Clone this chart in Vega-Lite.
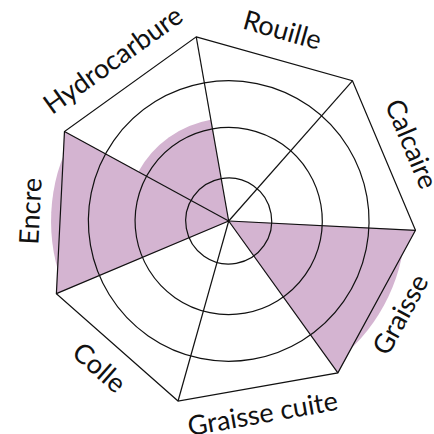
{
  "$schema": "https://vega.github.io/schema/vega-lite/v6.json",
  "width": 410,
  "height": 410,
  "autosize": {"type": "none"},
  "padding": {"left": 23.7, "top": 16, "right": 0.3, "bottom": 8},
  "background": "white",
  "config": {"view": {"stroke": null}},
  "datasets": {
    "cats": [
      {"cat": "Rouille", "i": 0, "v": 0},
      {"cat": "Calcaire", "i": 1, "v": 0},
      {"cat": "Graisse", "i": 2, "v": 0.945},
      {"cat": "Graisse cuite", "i": 3, "v": 0},
      {"cat": "Colle", "i": 4, "v": 0},
      {"cat": "Encre", "i": 5, "v": 0.95},
      {"cat": "Hydrocarbure", "i": 6, "v": 0.55}
    ],
    "rings": [{"g": 0.23}, {"g": 0.5}, {"g": 0.75}]
  },
  "layer": [
    {
      "data": {"name": "cats"},
      "transform": [
        {"calculate": "datum.i", "as": "t0"},
        {"calculate": "datum.i + 1", "as": "t1"}
      ],
      "mark": {"type": "arc", "fill": "#d4b4d1", "strokeWidth": 0},
      "encoding": {
        "theta": {"field": "t0", "type": "quantitative", "stack": null, "scale": {"type": "linear", "domain": [0, 7], "range": [-0.1745, 6.1087]}},
        "theta2": {"field": "t1"},
        "radius": {"field": "v", "type": "quantitative", "stack": null, "scale": {"type": "linear", "domain": [0, 1], "range": [0, 187], "zero": true}}
      }
    },
    {
      "data": {"name": "cats"},
      "transform": [
        {"filter": "datum.v > 0.9"},
        {"calculate": "[0, 1, 2]", "as": "j"},
        {"flatten": ["j"]},
        {"calculate": "datum.j == 0 ? 0 : sin(-0.1745 + (datum.i + datum.j - 1) * 2 * PI / 7)", "as": "px"},
        {"calculate": "datum.j == 0 ? 0 : cos(-0.1745 + (datum.i + datum.j - 1) * 2 * PI / 7)", "as": "py"}
      ],
      "mark": {"type": "line", "interpolate": "linear-closed", "fill": "#d4b4d1", "stroke": "#d4b4d1", "strokeWidth": 0.5},
      "encoding": {
        "x": {"field": "px", "type": "quantitative", "scale": {"domain": [-1.09626, 1.09626], "nice": false, "zero": false}, "axis": null},
        "y": {"field": "py", "type": "quantitative", "scale": {"domain": [-1.09626, 1.09626], "nice": false, "zero": false}, "axis": null},
        "detail": {"field": "cat", "type": "nominal"},
        "order": {"field": "j", "type": "quantitative"},
        "fill": {"value": "#d4b4d1"}
      }
    },
    {
      "data": {"name": "rings"},
      "transform": [
        {"calculate": "0", "as": "t0"},
        {"calculate": "7", "as": "t1"}
      ],
      "mark": {"type": "arc", "filled": false, "stroke": "#111111", "strokeWidth": 1.2},
      "encoding": {
        "theta": {"field": "t0", "type": "quantitative", "stack": null},
        "theta2": {"field": "t1"},
        "radius": {"field": "g", "type": "quantitative", "stack": null}
      }
    },
    {
      "data": {"name": "cats"},
      "transform": [
        {"calculate": "0", "as": "ox"},
        {"calculate": "0", "as": "oy"},
        {"calculate": "sin(-0.1745 + datum.i * 2 * PI / 7)", "as": "vx"},
        {"calculate": "cos(-0.1745 + datum.i * 2 * PI / 7)", "as": "vy"}
      ],
      "mark": {"type": "rule", "stroke": "#111111", "strokeWidth": 1.2},
      "encoding": {
        "x": {"field": "ox", "type": "quantitative"},
        "y": {"field": "oy", "type": "quantitative"},
        "x2": {"field": "vx"},
        "y2": {"field": "vy"}
      }
    },
    {
      "data": {"name": "cats"},
      "transform": [
        {"calculate": "sin(-0.1745 + datum.i * 2 * PI / 7)", "as": "vx"},
        {"calculate": "cos(-0.1745 + datum.i * 2 * PI / 7)", "as": "vy"}
      ],
      "mark": {"type": "line", "interpolate": "linear-closed", "stroke": "#111111", "strokeWidth": 1.2},
      "encoding": {
        "x": {"field": "vx", "type": "quantitative"},
        "y": {"field": "vy", "type": "quantitative"},
        "order": {"field": "i", "type": "quantitative"}
      }
    },
    {
      "data": {"name": "cats"},
      "transform": [
        {"calculate": "datum.i + 0.5", "as": "tm"},
        {"calculate": "1.053", "as": "lr"},
        {"calculate": "-10 + (datum.i + 0.5) * 360 / 7", "as": "mid"},
        {"calculate": "datum.mid > 90 && datum.mid < 270 ? datum.mid - 180 : (datum.mid > 270 ? datum.mid - 360 : datum.mid)", "as": "rot"}
      ],
      "mark": {"type": "text", "font": "Lato", "fontSize": 27, "align": "center", "baseline": "middle", "color": "#111111"},
      "encoding": {
        "theta": {"field": "tm", "type": "quantitative", "stack": null},
        "radius": {"field": "lr", "type": "quantitative", "stack": null},
        "text": {"field": "cat", "type": "nominal"},
        "angle": {"field": "rot", "type": "quantitative", "scale": null}
      }
    }
  ]
}
